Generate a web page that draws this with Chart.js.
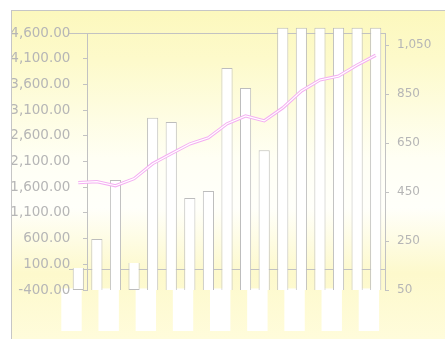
<!DOCTYPE html>
<html>
<head>
<meta charset="utf-8">
<script src="https://cdn.jsdelivr.net/npm/chart.js@4.4.0/dist/chart.umd.min.js"></script>
<style>
    html, body { margin: 0; padding: 0; background: #ffffff; }
    body { width: 445px; height: 339px; position: relative; overflow: hidden; }
    #frame {
        position: absolute; left: 11px; top: 10px; width: 433px; height: 328px;
        border-left: 1px solid #c6c6c6; border-top: 1px solid #c6c6c6;
        background: linear-gradient(to bottom, #fcf8bd 0%, #fdfacb 15%, #fffff4 45%, #fffffa 60%, #fdf9cc 80%, #fffcdb 100%);
    }
    canvas { display: block; }
</style>
</head>
<body>
<div id="frame"><canvas id="chart" width="433" height="328"></canvas></div>
<script>
// Categories (x axis)
const categories = ['2004', '2005', '2006', '2007', '2008', '2009', '2010', '2011', '2012',
    '2013', '2014', '2015', '2016', '2017', '2018', '2019', '2020'];

// Bars, left axis
const barValues = [30, 590, 1740, 125, 2950, 2870, 1390, 1525, 3920, 3530, 2320,
    4700, 4700, 4700, 4700, 4700, 4700];

// Line, right axis
const lineValues = [489, 493, 476, 505, 566, 607, 647, 672, 729, 761, 741,
    794, 863, 908, 924, 969, 1009];

// Tick labels
const leftTicks = [-400, 100, 600, 1100, 1600, 2100, 2600, 3100, 3600, 4100, 4600];
const rightTicks = [50, 250, 450, 650, 850, 1050];

// Axis ranges
const leftMin = -400;
const leftMax = 4600;
const rightMin = 50;
const rightMax = 1100;

const axisGray = '#c2c2c2';
const labelGray = '#b6b6b6';

// Bars are drawn up from the bottom of the left axis
const barData = barValues.map(v => [leftMin, v]);

// the left axis sits inside the plot, labels need a gap before the tick
const leftLabel = (v) => Number(v).toLocaleString('en-US', { minimumFractionDigits: 2, maximumFractionDigits: 2 }) + '    ';

const init = () => {
    const ctx = document.querySelector('#chart');

    new Chart(ctx, {
        data: {
            labels: categories,
            datasets: [
                {
                    type: 'line',
                    data: lineValues,
                    yAxisID: 'y1',
                    borderColor: '#ffffff',
                    borderWidth: 1.2,
                    pointRadius: 0,
                    tension: 0,
                    order: 0
                },
                {
                    type: 'line',
                    data: lineValues,
                    yAxisID: 'y1',
                    borderColor: '#f4aef2',
                    borderWidth: 3.2,
                    pointRadius: 0,
                    tension: 0,
                    order: 1
                },
                {
                    type: 'bar',
                    data: barData,
                    yAxisID: 'y',
                    backgroundColor: '#ffffff',
                    borderColor: '#bdbdbd',
                    borderWidth: 1,
                    borderSkipped: 'start',
                    barPercentage: 0.6,
                    categoryPercentage: 1,
                    clip: false,
                    order: 2
                }
            ]
        },
        options: {
            responsive: false,
            animation: false,
            layout: {
                padding: { left: 57, top: 22, right: 0, bottom: 49 }
            },
            plugins: {
                legend: { display: false },
                tooltip: { enabled: false }
            },
            scales: {
                x: {
                    type: 'category',
                    position: { y: 0 },
                    offset: true,
                    grid: {
                        offset: true,
                        drawOnChartArea: true,
                        tickLength: 4,
                        tickColor: axisGray,
                        color: (c) => c.index === 0 ? axisGray : 'rgba(0,0,0,0)'
                    },
                    border: { display: true, color: axisGray },
                    ticks: {
                        color: '#ffffff',
                        font: { family: 'DejaVu Sans', size: 12 },
                        minRotation: 90,
                        maxRotation: 90,
                        autoSkip: true,
                        autoSkipPadding: 8,
                        padding: 21,
                        labelOffset: -14,
                        showLabelBackdrop: true,
                        backdropColor: '#ffffff',
                        backdropPadding: { x: 6, y: 3 }
                    }
                },
                y: {
                    type: 'linear',
                    position: { x: 0.5 },
                    min: leftMin,
                    max: leftMax,
                    afterBuildTicks: (scale) => { scale.ticks = leftTicks.map(v => ({ value: v })); },
                    grid: {
                        drawOnChartArea: true,
                        tickLength: 4,
                        tickColor: axisGray,
                        color: (c) => c.tick && c.tick.value === leftMax ? axisGray : 'rgba(0,0,0,0)'
                    },
                    border: { display: true, color: axisGray },
                    ticks: {
                        color: labelGray,
                        font: { family: 'DejaVu Sans', size: 13.5 },
                        callback: leftLabel
                    }
                },
                y1: {
                    type: 'linear',
                    position: 'right',
                    min: rightMin,
                    max: rightMax,
                    afterBuildTicks: (scale) => { scale.ticks = rightTicks.map(v => ({ value: v })); },
                    grid: {
                        drawOnChartArea: false,
                        tickLength: 4,
                        tickColor: axisGray
                    },
                    border: { display: true, color: axisGray },
                    ticks: {
                        color: labelGray,
                        padding: 8,
                        font: { family: 'DejaVu Sans', size: 12 },
                        callback: (v) => Number(v).toLocaleString('en-US')
                    },
                    afterFit: (scale) => { scale.width = 60; }
                }
            }
        }
    });
};

if (document.readyState === 'loading') {
    document.addEventListener('DOMContentLoaded', init);
} else {
    init();
}
</script>
</body>
</html>
